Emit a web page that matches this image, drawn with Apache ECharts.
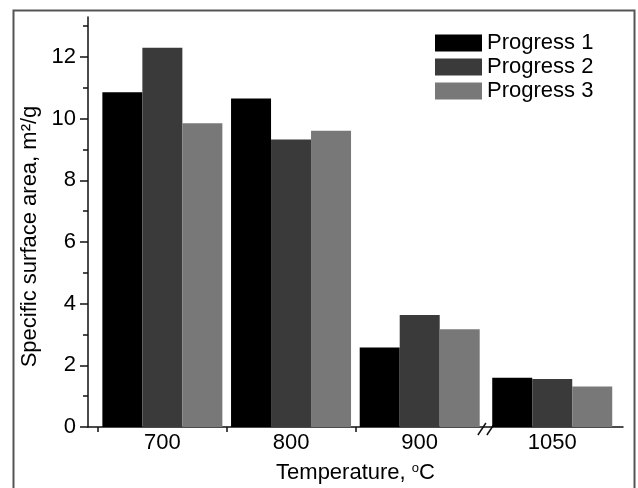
<!DOCTYPE html>
<html>
<head>
<meta charset="utf-8">
<script src="https://cdn.jsdelivr.net/npm/echarts@6/dist/echarts.min.js"></script>
<style>
html, body { margin: 0; padding: 0; background: #fff; }
#main { width: 638px; height: 488px; }
</style>
</head>
<body>
<div id="main"></div>
<script>
// data
var categories = ['700', '800', '900', '1050'];
var catPos = [0.5, 1.5, 2.5, 3.53];       // where each temperature sits on the x axis
var progress1 = [10.86, 10.66, 2.58, 1.60];
var progress2 = [12.30, 9.33, 3.63, 1.56];
var progress3 = [9.85, 9.61, 3.17, 1.31];
var yTicks = [0, 2, 4, 6, 8, 10, 12];
var yMinorTicks = [1, 3, 5, 7, 9, 11, 13];
var xTicks = [0, 1, 2];
var breakAt = 3.03;

var font = 'Liberation Sans, Arial, sans-serif';
var dom = document.getElementById('main');
var myChart = echarts.init(dom, null, { renderer: 'canvas' });

function pairs(vals) {
    return vals.map(function (v, i) { return [catPos[i], v]; });
}

function barSeries(name, vals, color) {
    return {
        name: name,
        type: 'bar',
        data: pairs(vals),
        barWidth: 40,
        barGap: '0%',
        itemStyle: { color: color },
        emphasis: { disabled: true },
        animation: false
    };
}

var option = {
    animation: false,
    textStyle: { fontFamily: font },
    grid: { left: 88, right: 15, top: 17, bottom: 61, containLabel: false, outerBoundsMode: 'none' },
    legend: {
        orient: 'vertical',
        left: 430,
        top: 27,
        itemWidth: 47,
        itemHeight: 17,
        itemGap: 2,
        icon: 'rect',
        textStyle: { fontSize: 22, color: '#000', fontFamily: font },
        data: ['Progress 1', 'Progress 2', 'Progress 3']
    },
    xAxis: {
        type: 'value',
        min: -0.078,
        max: 4.08,
        name: 'Temperature, {sup|o}C',
        nameLocation: 'middle',
        nameGap: 35,
        nameTextStyle: {
            fontSize: 22, color: '#000', fontFamily: font,
            rich: { sup: { fontSize: 13, padding: [0, 0, 9, 0], color: '#000', fontFamily: font } }
        },
        splitLine: { show: false },
        axisLine: { show: true, onZero: false, lineStyle: { color: '#111', width: 1.5 } },
        axisTick: { show: true, inside: false, length: 5, customValues: xTicks, lineStyle: { color: '#111', width: 1.5 } },
        axisLabel: {
            customValues: catPos,
            margin: 5,
            fontSize: 22,
            color: '#000',
            fontFamily: font,
            formatter: function (v) {
                var i = catPos.indexOf(v);
                return i >= 0 ? categories[i] : '';
            }
        }
    },
    yAxis: [{
        type: 'value',
        min: 0,
        max: 13.3,
        name: 'Specific surface area, m²/g',
        nameLocation: 'middle',
        nameGap: 45,
        nameTextStyle: { fontSize: 22, color: '#000', fontFamily: font, padding: [0, 29, 0, 0] },
        splitLine: { show: false },
        axisLine: { show: true, onZero: false, lineStyle: { color: '#111', width: 1.5 } },
        axisTick: { show: true, inside: false, length: 8, customValues: yTicks, lineStyle: { color: '#111', width: 1.5 } },
        axisLabel: { customValues: yTicks, margin: 12, fontSize: 22, color: '#000', fontFamily: font }
    }, {
        type: 'value',
        min: 0,
        max: 13.3,
        position: 'left',
        splitLine: { show: false },
        axisLine: { show: false, onZero: false },
        axisTick: { show: true, inside: false, length: 5, customValues: yMinorTicks, lineStyle: { color: '#111', width: 1.5 } },
        axisLabel: { show: false }
    }],
    graphic: [{
        type: 'rect',
        left: 11, top: 8,
        shape: { width: 621, height: 492 },
        style: { fill: 'none', stroke: '#555', lineWidth: 2 },
        silent: true
    }],
    series: [
        barSeries('Progress 1', progress1, '#000000'),
        barSeries('Progress 2', progress2, '#3a3a3a'),
        barSeries('Progress 3', progress3, '#787878')
    ]
};

myChart.setOption(option);

// axis break "//" placed through the axis scale
var bx = myChart.convertToPixel({ xAxisIndex: 0 }, breakAt);
var by = myChart.convertToPixel({ yAxisIndex: 0 }, 0);
myChart.setOption({
    graphic: [option.graphic[0], {
        type: 'group',
        silent: true,
        children: [{
            type: 'rect',
            shape: { x: bx - 5, y: by - 2, width: 9, height: 4 },
            style: { fill: '#fff' }
        }, {
            type: 'line',
            shape: { x1: bx - 10, y1: by + 8, x2: bx - 2, y2: by - 4 },
            style: { stroke: '#111', lineWidth: 1.5 }
        }, {
            type: 'line',
            shape: { x1: bx - 1, y1: by + 8, x2: bx + 7, y2: by - 4 },
            style: { stroke: '#111', lineWidth: 1.5 }
        }]
    }]
});
</script>
</body>
</html>
